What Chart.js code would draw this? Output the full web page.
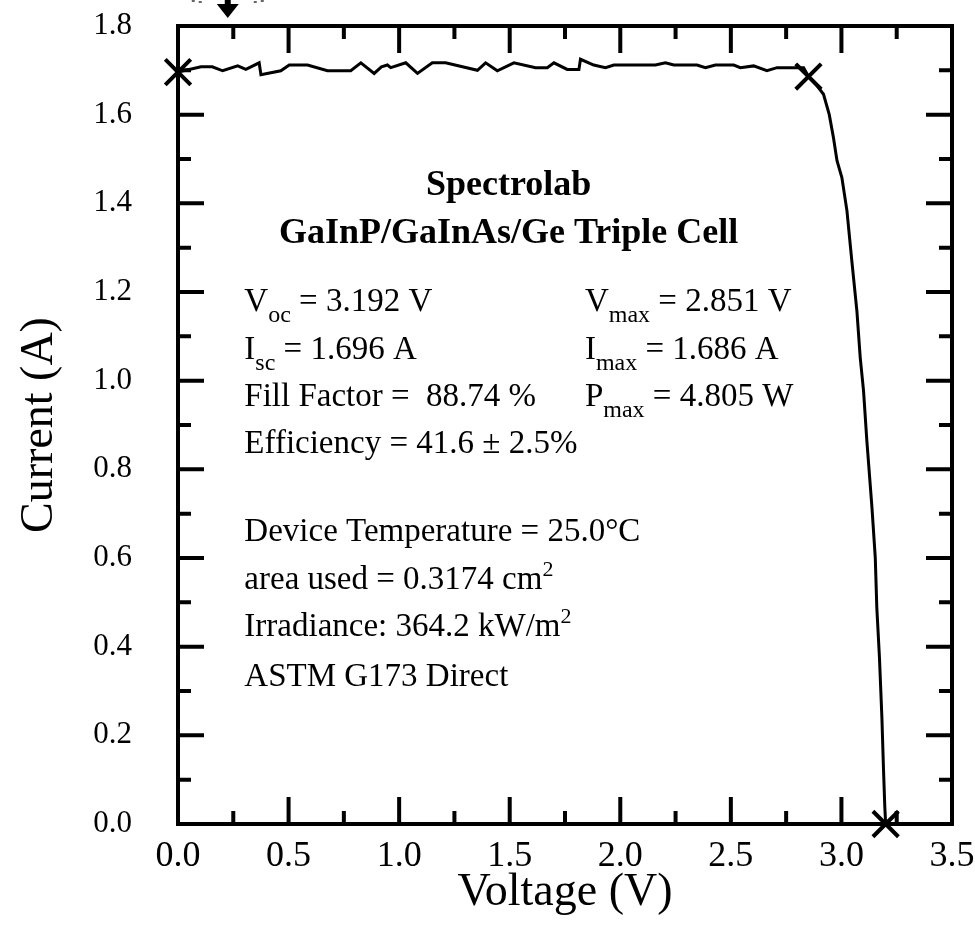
<!DOCTYPE html>
<html><head><meta charset="utf-8">
<script src="https://cdn.jsdelivr.net/npm/chart.js@4.4.0/dist/chart.umd.min.js"></script>
<style>html,body{margin:0;padding:0;background:#fff;}canvas{display:block;}</style>
</head><body>
<canvas id="c" width="975" height="925"></canvas>
<script>
// ---- data ----
const voltage = [0.000,0.104,0.155,0.202,0.270,0.307,0.367,0.375,0.465,0.503,0.586,0.676,0.781,0.827,0.887,0.920,0.947,0.962,1.030,1.083,1.150,1.210,1.354,1.391,1.444,1.519,1.617,1.670,1.700,1.760,1.813,1.820,1.880,1.933,1.971,2.159,2.204,2.242,2.347,2.385,2.430,2.513,2.543,2.603,2.663,2.709,2.829,2.851,2.890,2.919,2.945,2.964,2.980,3.002,3.025,3.047,3.070,3.085,3.100,3.115,3.138,3.153,3.160,3.172,3.183,3.190,3.196,3.200];
const current = [1.696,1.708,1.708,1.699,1.710,1.702,1.717,1.690,1.699,1.712,1.712,1.699,1.699,1.717,1.693,1.708,1.712,1.706,1.717,1.693,1.717,1.717,1.700,1.717,1.699,1.717,1.706,1.706,1.717,1.702,1.702,1.725,1.712,1.706,1.712,1.712,1.717,1.712,1.712,1.706,1.712,1.712,1.706,1.710,1.699,1.706,1.706,1.686,1.665,1.646,1.600,1.548,1.496,1.458,1.383,1.270,1.157,1.052,0.977,0.864,0.714,0.601,0.488,0.375,0.240,0.127,0.040,0.000];
const markerV = [0.000, 2.851, 3.200];
const markerI = [1.696, 1.686, 0.000];
const xTickValues = [0.0,0.5,1.0,1.5,2.0,2.5,3.0,3.5];
const yTickValues = [0.0,0.2,0.4,0.6,0.8,1.0,1.2,1.4,1.6,1.8];
const xMinorTicks = [0.25,0.75,1.25,1.75,2.25,2.75,3.25];
const yMinorTicks = [0.1,0.3,0.5,0.7,0.9,1.1,1.3,1.5,1.7];
const xTitle = 'Voltage (V)';
const yTitle = 'Current (A)';
const titleLines = ['Spectrolab', 'GaInP/GaInAs/Ge Triple Cell'];
const leftNotes = [
  [['V',''],['oc','sub'],[' = 3.192 V','']],
  [['I',''],['sc','sub'],[' = 1.696 A','']],
  [['Fill Factor =  88.74 %','']],
  [['Efficiency = 41.6 \u00b1 2.5%','']],
  [['Device Temperature = 25.0\u00b0C','']],
  [['area used = 0.3174 cm',''],['2','sup']],
  [['Irradiance: 364.2 kW/m',''],['2','sup']],
  [['ASTM G173 Direct','']]
];
const rightNotes = [
  [['V',''],['max','sub'],[' = 2.851 V','']],
  [['I',''],['max','sub'],[' = 1.686 A','']],
  [['P',''],['max','sub'],[' = 4.805 W','']]
];

// ---- layout (positions in axis units) ----
const FONT = 'Liberation Serif';
const titleX = 1.495, titleY = [1.419, 1.311];
const leftX = 0.300, leftY = [1.158, 1.048, 0.942, 0.836, 0.638, 0.530, 0.424, 0.312];
const rightX = 1.840, rightY = [1.158, 1.048, 0.942];

function drawRich(ctx, segs, x, y, size) {
  let cx = x;
  for (const [t, k] of segs) {
    let fs = size, dy = 0;
    if (k === 'sub') { fs = Math.round(size * 0.74); dy = 11; }
    if (k === 'sup') { fs = Math.round(size * 0.68); dy = -13; }
    ctx.font = fs + 'px "' + FONT + '"';
    ctx.fillText(t, cx, y + dy);
    cx += ctx.measureText(t).width;
  }
}

const decor = {
  id: 'decor',
  afterDatasetsDraw(chart) {
    const {ctx, chartArea: a, scales: {x, y}} = chart;
    ctx.save();
    ctx.strokeStyle = '#000'; ctx.fillStyle = '#000';
    ctx.lineWidth = 4; ctx.lineCap = 'butt';
    ctx.strokeRect(a.left, a.top, a.right - a.left, a.bottom - a.top);
    const tick = (px, len, horiz) => {
      ctx.beginPath();
      if (horiz) { ctx.moveTo(px, a.bottom); ctx.lineTo(px, a.bottom - len); ctx.moveTo(px, a.top); ctx.lineTo(px, a.top + len); }
      else { ctx.moveTo(a.left, px); ctx.lineTo(a.left + len, px); ctx.moveTo(a.right, px); ctx.lineTo(a.right - len, px); }
      ctx.stroke();
    };
    xTickValues.forEach(v => tick(x.getPixelForValue(v), 27, true));
    xMinorTicks.forEach(v => tick(x.getPixelForValue(v), 13, true));
    yTickValues.forEach(v => tick(y.getPixelForValue(v), 26, false));
    yMinorTicks.forEach(v => tick(y.getPixelForValue(v), 13, false));
    // cut-off arrow at the top
    const ax = x.getPixelForValue(0.225);
    ctx.beginPath(); ctx.moveTo(ax - 11, 4); ctx.lineTo(ax + 11, 4); ctx.lineTo(ax, 18); ctx.closePath(); ctx.fill();
    ctx.fillRect(ax - 3, 0, 6, 5);
    ctx.fillStyle = '#666';
    ctx.fillRect(ax - 36, 0, 3, 2); ctx.fillRect(ax - 29, 1, 3, 2);
    ctx.fillRect(ax + 26, 1, 3, 2); ctx.fillRect(ax + 33, 0, 3, 2);
    ctx.fillStyle = '#000';
    // texts
    ctx.textBaseline = 'alphabetic';
    ctx.textAlign = 'center';
    ctx.font = 'bold 36px "' + FONT + '"';
    titleLines.forEach((t, i) => ctx.fillText(t, x.getPixelForValue(titleX), y.getPixelForValue(titleY[i])));
    ctx.textAlign = 'left';
    leftNotes.forEach((s, i) => drawRich(ctx, s, x.getPixelForValue(leftX), y.getPixelForValue(leftY[i]), 33));
    rightNotes.forEach((s, i) => drawRich(ctx, s, x.getPixelForValue(rightX), y.getPixelForValue(rightY[i]), 33));
    ctx.restore();
  }
};

new Chart(document.getElementById('c'), {
  type: 'scatter',
  data: {
    datasets: [
      { data: voltage.map((v, i) => ({x: v, y: current[i]})), showLine: true, borderColor: '#000', borderWidth: 3, pointRadius: 0, tension: 0, order: 2 },
      { data: markerV.map((v, i) => ({x: v, y: markerI[i]})), showLine: false, pointStyle: 'crossRot', pointRadius: 18, borderColor: '#000', pointBorderWidth: 4, borderWidth: 4, clip: false, order: 1 }
    ]
  },
  options: {
    responsive: false, animation: false, devicePixelRatio: 1,
    layout: { padding: { top: 26, right: 23, left: 0, bottom: 0 } },
    plugins: { legend: { display: false }, tooltip: { enabled: false } },
    scales: {
      x: {
        type: 'linear', min: 0, max: 3.5,
        grid: { display: false, drawTicks: false }, border: { display: false },
        ticks: { stepSize: 0.5, autoSkip: false, maxRotation: 0, padding: 11, color: '#000', font: { family: FONT, size: 36 }, callback: v => Number(v).toFixed(1) },
        title: { display: true, text: xTitle, color: '#000', font: { family: FONT, size: 46, lineHeight: 1 }, padding: { top: 0, bottom: 9 } },
        afterFit: s => { s.height = 101; s.paddingLeft = 0; s.paddingRight = 0; }
      },
      y: {
        type: 'linear', min: 0, max: 1.8,
        grid: { display: false, drawTicks: false }, border: { display: false },
        ticks: { stepSize: 0.2, autoSkip: false, padding: 46, color: '#000', font: { family: FONT, size: 31 }, callback: v => Number(v).toFixed(1) },
        title: { display: true, text: yTitle, color: '#000', font: { family: FONT, size: 46, lineHeight: 1 }, padding: { top: 17, bottom: 0 } },
        afterFit: s => { s.width = 178; s.paddingTop = 0; s.paddingBottom = 0; }
      }
    }
  },
  plugins: [decor]
});
</script>
</body></html>
